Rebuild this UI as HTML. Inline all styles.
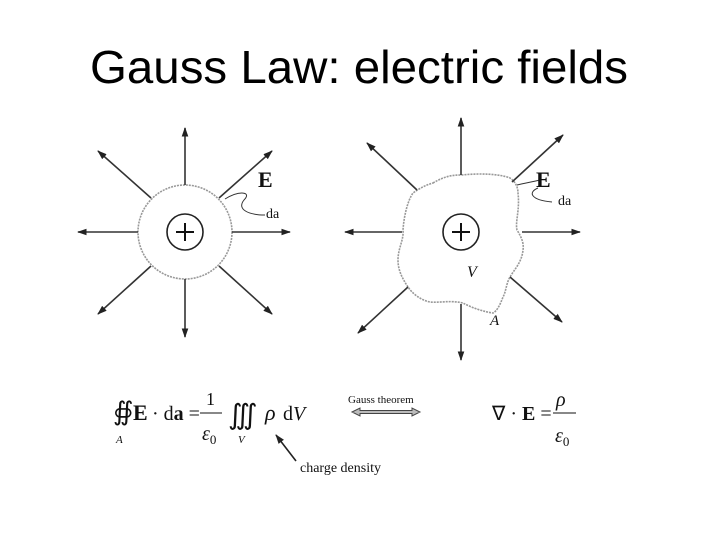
<!DOCTYPE html>
<html><head><meta charset="utf-8"><style>
body{margin:0;width:720px;height:540px;background:#fff;overflow:hidden}
</style></head><body>
<svg width="720" height="540" viewBox="0 0 720 540" xmlns="http://www.w3.org/2000/svg">
<defs>
<marker id="ah" viewBox="0 0 10 10" refX="9" refY="5" markerWidth="6" markerHeight="6" orient="auto-start-reverse">
<path d="M0,1.5 L10,5 L0,8.5 z" fill="#222"/></marker>
</defs>
<text x="359" y="83" text-anchor="middle" font-family="Liberation Sans, sans-serif" font-size="46" fill="#000" textLength="538" lengthAdjust="spacingAndGlyphs">Gauss Law: electric fields</text>
<g stroke="#333" stroke-width="1.6" fill="none">
<circle cx="185" cy="232" r="47" stroke="#999" stroke-dasharray="2,1"/>
<circle cx="185" cy="232" r="18" stroke="#222"/>
<line x1="185" y1="185" x2="185" y2="128" marker-end="url(#ah)"/>
<line x1="185" y1="279" x2="185" y2="337" marker-end="url(#ah)"/>
<line x1="138" y1="232" x2="78" y2="232" marker-end="url(#ah)"/>
<line x1="232" y1="232" x2="290" y2="232" marker-end="url(#ah)"/>
<line x1="151" y1="198" x2="98" y2="151" marker-end="url(#ah)"/>
<line x1="219" y1="198" x2="272" y2="151" marker-end="url(#ah)"/>
<line x1="151" y1="266" x2="98" y2="314" marker-end="url(#ah)"/>
<line x1="219" y1="266" x2="272" y2="314" marker-end="url(#ah)"/>
<path d="M225,199 C240,190 252,192 244,200 C236,210 250,215 265,215" stroke-width="1"/>
<path d="M433,183 C445,176 452,175 462,175 C480,173 500,174 510,178 C516,182 518,188 518,193 C520,210 515,222 517,230 C522,238 524,244 523,250 C522,262 514,270 510,277 C506,284 506,292 503,297 C500,305 497,311 493,313 C485,312 472,308 463,303 C450,300 440,303 430,302 C420,300 412,293 408,287 C402,278 398,270 398,260 C398,248 404,240 403,230 C404,215 408,200 413,193 C420,188 426,185 433,183 Z" stroke="#999" stroke-dasharray="2,1"/>
<circle cx="461" cy="232" r="18" stroke="#222"/>
<line x1="461" y1="175" x2="461" y2="118" marker-end="url(#ah)"/>
<line x1="461" y1="304" x2="461" y2="360" marker-end="url(#ah)"/>
<line x1="402" y1="232" x2="345" y2="232" marker-end="url(#ah)"/>
<line x1="522" y1="232" x2="580" y2="232" marker-end="url(#ah)"/>
<line x1="417" y1="190" x2="367" y2="143" marker-end="url(#ah)"/>
<line x1="512" y1="182" x2="563" y2="135" marker-end="url(#ah)"/>
<line x1="408" y1="287" x2="358" y2="333" marker-end="url(#ah)"/>
<line x1="510" y1="277" x2="562" y2="322" marker-end="url(#ah)"/>
<path d="M517,185 C525,183 532,182 540,180" stroke-width="1"/>
<path d="M538,188 C528,192 530,200 552,202" stroke-width="1"/>
<path d="M176,232 H194 M185,223 V241" stroke="#111" stroke-width="2"/>
<path d="M452,232 H470 M461,223 V241" stroke="#111" stroke-width="2"/>
</g>
<g font-family="Liberation Serif, serif" fill="#111">
<text x="258" y="187" font-size="22" font-weight="bold">E</text>
<text x="266" y="218" font-size="14">da</text>
<text x="536" y="187" font-size="22" font-weight="bold">E</text>
<text x="558" y="205" font-size="14">da</text>
<text x="467" y="277" font-size="16" font-style="italic">V</text>
<text x="490" y="325" font-size="15" font-style="italic">A</text>
<text x="113" y="420" font-size="26">∯</text>
<text x="116" y="443" font-size="11" font-style="italic">A</text>
<text x="133" y="420" font-size="22" font-weight="bold">E</text>
<text x="152" y="420" font-size="20">· d<tspan font-weight="bold">a</tspan> =</text>
<text x="206" y="405" font-size="18">1</text>
<line x1="200" y1="413" x2="222" y2="413" stroke="#111" stroke-width="1"/>
<text x="202" y="440" font-size="20" font-style="italic">ε<tspan font-size="13" font-style="normal" dy="4">0</tspan></text>
<text x="228" y="424" font-size="28">∭</text>
<text x="238" y="443" font-size="11" font-style="italic">V</text>
<text x="265" y="420" font-size="22" font-style="italic">ρ</text>
<text x="283" y="420" font-size="20">d<tspan font-style="italic">V</tspan></text>
<text x="348" y="403" font-size="11">Gauss theorem</text>
<text x="492" y="420" font-size="20">∇ · <tspan font-weight="bold">E</tspan> =</text>
<text x="556" y="406" font-size="20" font-style="italic">ρ</text>
<line x1="553" y1="413" x2="576" y2="413" stroke="#111" stroke-width="1"/>
<text x="555" y="442" font-size="20" font-style="italic">ε<tspan font-size="13" font-style="normal" dy="4">0</tspan></text>
<text x="300" y="472" font-size="14">charge density</text>
</g>
<g stroke="#444" fill="#bbb" stroke-width="1">
<path d="M352,412 L360,408 L360,410.5 L412,410.5 L412,408 L420,412 L412,416 L412,413.5 L360,413.5 L360,416 Z"/>
</g>
<line x1="296" y1="461" x2="276" y2="435" stroke="#222" stroke-width="1.6" marker-end="url(#ah)"/>
</svg>
</body></html>
